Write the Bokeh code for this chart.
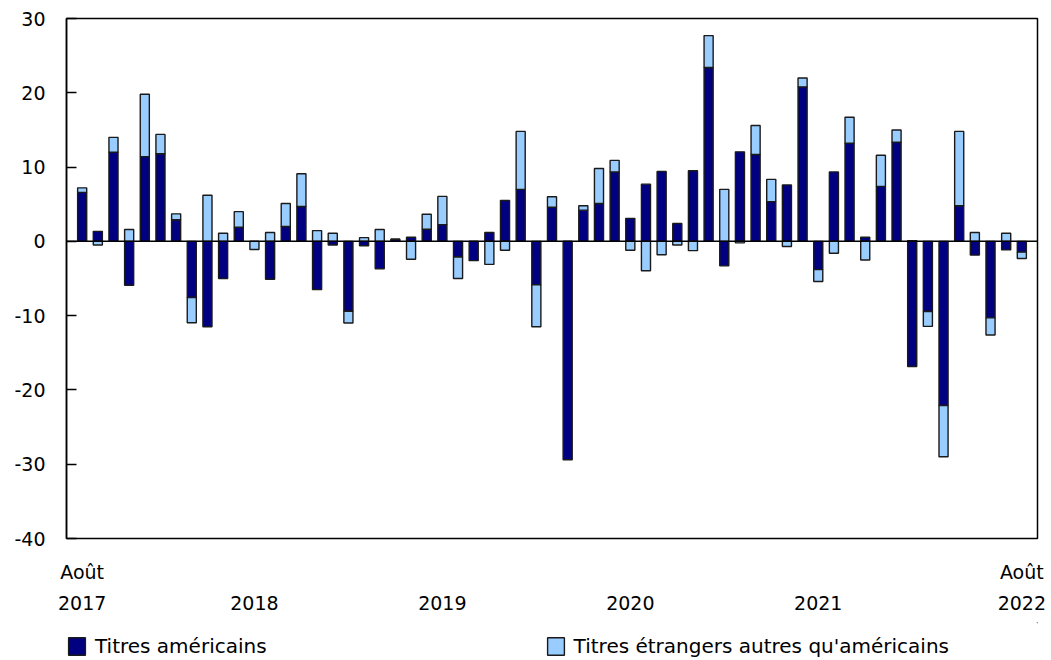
from bokeh.plotting import figure
from bokeh.layouts import column
from bokeh.models import (ColumnDataSource, Range1d, FixedTicker, LinearAxis,
                          Span, Legend, LegendItem)
from bokeh.embed import file_html
from bokeh.resources import INLINE
import numpy as np

# Monthly values, Aug 2017 .. Aug 2022 (billions of dollars)
months = list(range(61))
us_securities = [6.6, 1.35, 12.0, -5.9, 11.4, 11.8, 2.9, -7.55, -11.5, -5.0,
                 1.9, 0.0, -5.1, 2.0, 4.7, -6.5, -0.5, -9.4, -0.6, -3.7,
                 0.3, 0.55, 1.65, 2.25, -2.1, -2.6, 1.2, 5.5, 7.0, -5.85,
                 4.6, -29.4, 4.2, 5.1, 9.35, 3.1, 7.7, 9.4, 2.4, 9.5,
                 23.4, -3.3, 12.05, 11.7, 5.35, 7.6, 20.8, -3.8, 9.35, 13.2,
                 0.55, 7.4, 13.35, -16.85, -9.45, -22.1, 4.8, -1.85, -10.3, -1.15,
                 -1.45]
non_us_foreign = [0.6, -0.5, 2.0, 1.6, 8.4, 2.6, 0.8, -3.4, 6.2, 1.1,
                  2.1, -1.1, 1.2, 3.1, 4.4, 1.45, 1.1, -1.6, 0.5, 1.6,
                  0.0, -2.4, 2.0, 3.8, -2.9, 0.0, -3.1, -1.2, 7.8, -5.65,
                  1.4, 0.0, 0.6, 4.7, 1.55, -1.2, -3.95, -1.8, -0.5, -1.25,
                  4.3, 7.0, -0.2, 3.9, 3.0, -0.7, 1.2, -1.6, -1.6, 3.5,
                  -2.5, 4.2, 1.65, 0.1, -2.0, -6.9, 10.0, 1.2, -2.3, 1.1,
                  -0.85]
series_names = ["Titres américains", "Titres étrangers autres qu'américains"]
month_ticks = [0, 60]
month_labels = ["Août", "Août"]
year_ticks = [0, 11, 23, 35, 47, 60]
year_labels = ["2017", "2018", "2019", "2020", "2021", "2022"]
y_ticks = [-40, -30, -20, -10, 0, 10, 20, 30]

us = np.array(us_securities)
fo = np.array(non_us_foreign)
fo_base = np.where(fo >= 0, np.maximum(us, 0), np.minimum(us, 0))
src_us = ColumnDataSource(dict(x=months, bottom=np.zeros_like(us), top=us))
src_fo = ColumnDataSource(dict(x=months, bottom=fo_base, top=fo_base + fo))

FONT = "DejaVu Sans"
DARK = "#000080"
LIGHT = "#99CCFF"
EDGE = "#1a1a1a"

p = figure(width=1048, height=622, output_backend="svg", toolbar_location=None,
           x_range=Range1d(-1, 61), y_range=Range1d(-40, 30),
           min_border_left=66, min_border_top=18, min_border_right=11,
           min_border_bottom=84)
p.background_fill_color = "white"
p.border_fill_color = "white"
p.xgrid.visible = False
p.ygrid.visible = False
p.outline_line_color = "black"
p.outline_line_width = 1.5

p.vbar(x="x", bottom="bottom", top="top", width=0.58, source=src_us,
       fill_color=DARK, line_color=EDGE, line_width=1.4)
p.vbar(x="x", bottom="bottom", top="top", width=0.58, source=src_fo,
       fill_color=LIGHT, line_color=EDGE, line_width=1.4)

p.add_layout(Span(location=0, dimension="width", line_color="black", line_width=1.5))

# y axis
ya = p.yaxis[0]
ya.ticker = FixedTicker(ticks=y_ticks)
ya.major_label_overrides = {t: str(t) for t in y_ticks}
ya.major_tick_in = 10
ya.major_tick_out = 0
ya.minor_tick_in = 0
ya.minor_tick_out = 0
ya.axis_line_color = "black"
ya.axis_line_width = 1.5
ya.major_tick_line_width = 1.5
ya.major_label_standoff = 21
ya.major_label_text_font = FONT
ya.major_label_text_font_size = "19px"
ya.major_label_text_color = "black"

# x axis: month row, then year row
xa = p.xaxis[0]
xa.ticker = FixedTicker(ticks=month_ticks)
xa.major_label_overrides = dict(zip(month_ticks, month_labels))
xa2 = LinearAxis(ticker=FixedTicker(ticks=year_ticks),
                 major_label_overrides=dict(zip(year_ticks, year_labels)))
p.add_layout(xa2, "below")
for ax, st in [(xa, 22), (xa2, 10)]:
    ax.axis_line_color = None
    ax.major_tick_line_color = None
    ax.minor_tick_line_color = None
    ax.major_tick_in = 0
    ax.major_tick_out = 0
    ax.major_label_standoff = st
    ax.major_label_text_font = FONT
    ax.major_label_text_font_size = "19px"
    ax.major_label_text_color = "black"

# legend strip below the chart
lg = figure(width=1048, height=36, output_backend="svg", toolbar_location=None,
            x_axis_type=None, y_axis_type=None,
            x_range=Range1d(0, 1), y_range=Range1d(0, 1),
            min_border_left=0, min_border_right=0, min_border_top=0,
            min_border_bottom=0)
lg.outline_line_color = None
lg.background_fill_color = "white"
lg.border_fill_color = "white"
lg.xgrid.visible = False
lg.ygrid.visible = False
dummy = ColumnDataSource(dict(x=[5], bottom=[5], top=[6]))
l_us = lg.vbar(x="x", bottom="bottom", top="top", width=0.5, source=dummy,
               fill_color=DARK, line_color=EDGE, line_width=1.4)
l_fo = lg.vbar(x="x", bottom="bottom", top="top", width=0.5, source=dummy,
               fill_color=LIGHT, line_color=EDGE, line_width=1.4)
legend = Legend(items=[LegendItem(label=series_names[0], renderers=[l_us]),
                       LegendItem(label=series_names[1], renderers=[l_fo])],
                location=(0, 0), orientation="horizontal",
                glyph_width=21, glyph_height=22, label_height=22,
                label_standoff=8, spacing=278, padding=0, margin=0,
                label_text_font=FONT, label_text_font_size="20px",
                label_text_color="black",
                border_line_alpha=0, background_fill_alpha=0)
lg.add_layout(legend, "center")

layout = column(p, lg, spacing=0)
open("out.html", "w").write(file_html(layout, INLINE))
